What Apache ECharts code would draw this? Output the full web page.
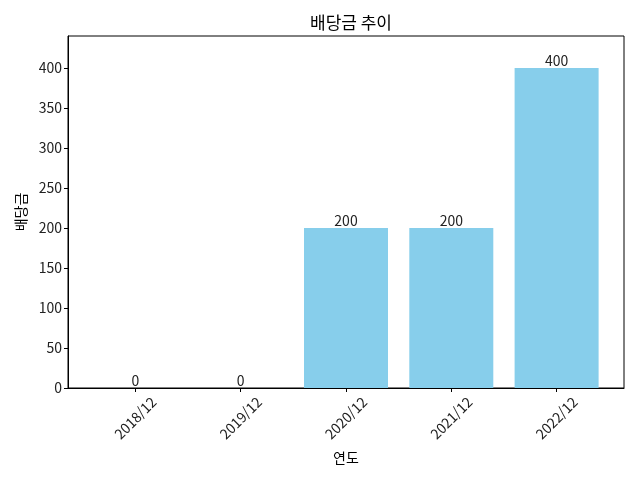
<!DOCTYPE html>
<html lang="ko">
<head>
    <meta charset="UTF-8">
    <title>배당금 추이</title>
    <script src="https://cdn.jsdelivr.net/npm/echarts@6.0.0/dist/echarts.min.js"></script>
    <style>
        html, body { margin: 0; padding: 0; background: #fff; }
        #chart { width: 640px; height: 480px; }
    </style>
</head>
<body>
    <div id="chart"></div>
    <script>
        const years = ['2018/12', '2019/12', '2020/12', '2021/12', '2022/12'];
        const dividends = [0, 0, 200, 200, 400];
        const yTicks = [0, 50, 100, 150, 200, 250, 300, 350, 400];

        const font = '"Noto Sans CJK KR", "Noto Sans", sans-serif';
        const chart = echarts.init(document.getElementById('chart'));

        const option = {
            backgroundColor: '#ffffff',
            animation: false,
            textStyle: { fontFamily: font },
            title: {
                text: '배당금 추이',
                left: 305,
                top: 9,
                textStyle: { fontFamily: font, fontSize: 17, fontWeight: 'normal', color: '#000' }
            },
            grid: {
                left: 68,
                right: 16,
                top: 36,
                bottom: 92,
                show: true,
                borderColor: '#000',
                borderWidth: 1
            },
            xAxis: {
                type: 'value',
                min: -0.64,
                max: 4.64,
                name: '연도',
                nameLocation: 'middle',
                nameGap: 63,
                nameTextStyle: { fontFamily: font, fontSize: 14, color: '#000' },
                axisLine: { show: true, onZero: false, lineStyle: { color: '#000' } },
                axisTick: {
                    show: true,
                    length: 4,
                    lineStyle: { color: '#000' },
                    customValues: [0, 1, 2, 3, 4]
                },
                axisLabel: {
                    customValues: [0, 1, 2, 3, 4],
                    rotate: 45,
                    align: 'center',
                    verticalAlign: 'middle',
                    fontSize: 14,
                    color: '#222',
                    margin: 30,
                    formatter: v => years[Math.round(v)]
                },
                splitLine: { show: false }
            },
            yAxis: {
                type: 'value',
                min: 0,
                max: 440,
                name: '배당금',
                nameLocation: 'middle',
                nameGap: 40,
                nameRotate: 90,
                nameTextStyle: { fontFamily: font, fontSize: 14, color: '#000' },
                axisLine: { show: true, onZero: false, lineStyle: { color: '#000' } },
                axisTick: {
                    show: true,
                    length: 4,
                    lineStyle: { color: '#000' },
                    customValues: yTicks
                },
                axisLabel: {
                    customValues: yTicks,
                    fontSize: 14,
                    color: '#222',
                    margin: 6
                },
                splitLine: { show: false }
            },
            series: [{
                type: 'bar',
                barWidth: 84,
                data: dividends.map((v, i) => [i, v]),
                itemStyle: { color: '#87CEEB' },
                label: {
                    show: true,
                    position: 'top',
                    distance: 0,
                    fontSize: 14,
                    color: '#222',
                    formatter: p => p.value[1]
                }
            }]
        };

        chart.setOption(option);
    </script>
</body>
</html>
